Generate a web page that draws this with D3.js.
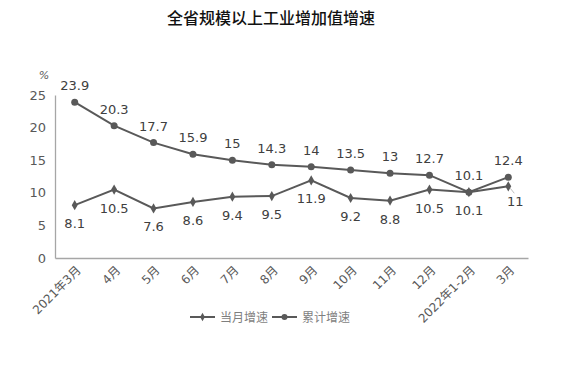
<!DOCTYPE html>
<html>
<head>
<meta charset="utf-8">
<script src="https://cdn.jsdelivr.net/npm/d3@7"></script>
<style>
body { margin: 0; background: #fff; }
text { font-family: "DejaVu Sans", "Noto Sans CJK SC", sans-serif; }
</style>
</head>
<body>
<svg id="chart" width="563" height="371"></svg>
<script>
//Data
const months = ['2021年3月', '4月', '5月', '6月', '7月', '8月', '9月', '10月', '11月', '12月', '2022年1-2月', '3月'];
const monthly = [8.1, 10.5, 7.6, 8.6, 9.4, 9.5, 11.9, 9.2, 8.8, 10.5, 10.1, 11];
const cumulative = [23.9, 20.3, 17.7, 15.9, 15, 14.3, 14, 13.5, 13, 12.7, 10.1, 12.4];
const yTicks = [0, 5, 10, 15, 20, 25];
const seriesNames = ['当月增速', '累计增速'];

const lineColor = '#595959';
const labelColor = '#404040';
const axisColor = '#a6a6a6';

var svg = d3.select('#chart');

//Scales
var x = d3.scaleBand()
    .domain(months)
    .range([55, 528]);
var y = d3.scaleLinear()
    .domain([0, 25])
    .range([258, 95]);
const cx = d => x(d) + x.bandwidth() / 2;

//Title
svg.append('text')
    .attr('x', 271).attr('y', 24)
    .attr('text-anchor', 'middle')
    .attr('font-size', 16)
    .attr('font-weight', 500)
    .attr('font-family', '"Noto Sans CJK SC", sans-serif')
    .attr('fill', '#111')
    .text('全省规模以上工业增加值增速');

//% unit
svg.append('text')
    .attr('x', 44).attr('y', 79)
    .attr('text-anchor', 'middle')
    .attr('font-size', 11)
    .attr('font-style', 'italic')
    .attr('fill', lineColor)
    .text('%');

//Y axis
var yAxis = svg.append('g')
    .attr('transform', 'translate(55,0)')
    .call(d3.axisLeft(y).tickValues(yTicks).tickSize(0).tickPadding(9));
yAxis.select('.domain').attr('stroke', axisColor).attr('stroke-width', 1.3);
yAxis.selectAll('text').attr('font-size', 13).attr('fill', lineColor)
    .attr('font-family', '"DejaVu Sans", sans-serif');

//X axis
var xAxis = svg.append('g')
    .attr('transform', 'translate(0,258)')
    .call(d3.axisBottom(x).tickSize(0).tickPadding(0));
xAxis.select('.domain').attr('stroke', axisColor).attr('stroke-width', 1.3);
xAxis.selectAll('text')
    .attr('font-size', 12)
    .attr('fill', lineColor)
    .attr('text-anchor', 'end')
    .attr('dy', 0)
    .attr('transform', 'translate(7,13) rotate(-45)');

//Lines
var line = d3.line()
    .x((d, i) => cx(months[i]))
    .y(d => y(d));

svg.append('path').datum(cumulative)
    .attr('fill', 'none').attr('stroke', lineColor).attr('stroke-width', 2)
    .attr('d', line);
svg.append('path').datum(monthly)
    .attr('fill', 'none').attr('stroke', lineColor).attr('stroke-width', 2)
    .attr('d', line);

//Markers
svg.selectAll('.cum-dot').data(cumulative).enter().append('circle')
    .attr('cx', (d, i) => cx(months[i]))
    .attr('cy', d => y(d))
    .attr('r', 3.5)
    .attr('fill', lineColor);

var diamond = d3.symbol().type(d3.symbolDiamond).size(30);
svg.selectAll('.mon-dot').data(monthly).enter().append('path')
    .attr('d', diamond)
    .attr('transform', (d, i) => 'translate(' + cx(months[i]) + ',' + y(d) + ')')
    .attr('fill', lineColor);

//Data labels
svg.selectAll('.cum-label').data(cumulative).enter().append('text')
    .attr('x', (d, i) => cx(months[i]))
    .attr('y', d => y(d) - 12)
    .attr('text-anchor', 'middle')
    .attr('font-size', 13)
    .attr('fill', labelColor)
    .text(d => d);

const last = monthly.length - 1;
svg.selectAll('.mon-label').data(monthly).enter().append('text')
    .attr('x', (d, i) => cx(months[i]) + (i == last ? 7 : 0))
    .attr('y', (d, i) => y(d) + (i == last ? 20 : 23))
    .attr('text-anchor', 'middle')
    .attr('font-size', 13)
    .attr('fill', labelColor)
    .text(d => d);

//Leader line for the last monthly label
svg.append('line')
    .attr('x1', cx(months[last]) + 2).attr('y1', y(monthly[last]) + 2)
    .attr('x2', cx(months[last]) + 6).attr('y2', y(monthly[last]) + 7)
    .attr('stroke', '#bfbfbf').attr('stroke-width', 1);

//Legend
var legend = svg.append('g').attr('transform', 'translate(190,317)');
seriesNames.forEach(function(name, i) {
    var g = legend.append('g').attr('transform', 'translate(' + i * 82 + ',0)');
    g.append('line')
        .attr('x1', 0).attr('x2', 25).attr('y1', 0).attr('y2', 0)
        .attr('stroke', lineColor).attr('stroke-width', 2);
    if (i == 0)
        g.append('path').attr('d', d3.symbol().type(d3.symbolDiamond).size(20))
            .attr('transform', 'translate(12.5,0)').attr('fill', lineColor);
    else
        g.append('circle').attr('cx', 12.5).attr('cy', 0).attr('r', 3).attr('fill', lineColor);
    g.append('text')
        .attr('x', 30).attr('y', 4.5)
        .attr('font-size', 12)
        .attr('font-family', '"Noto Sans CJK SC", sans-serif')
        .attr('fill', '#7f7f7f')
        .text(name);
});
</script>
</body>
</html>
